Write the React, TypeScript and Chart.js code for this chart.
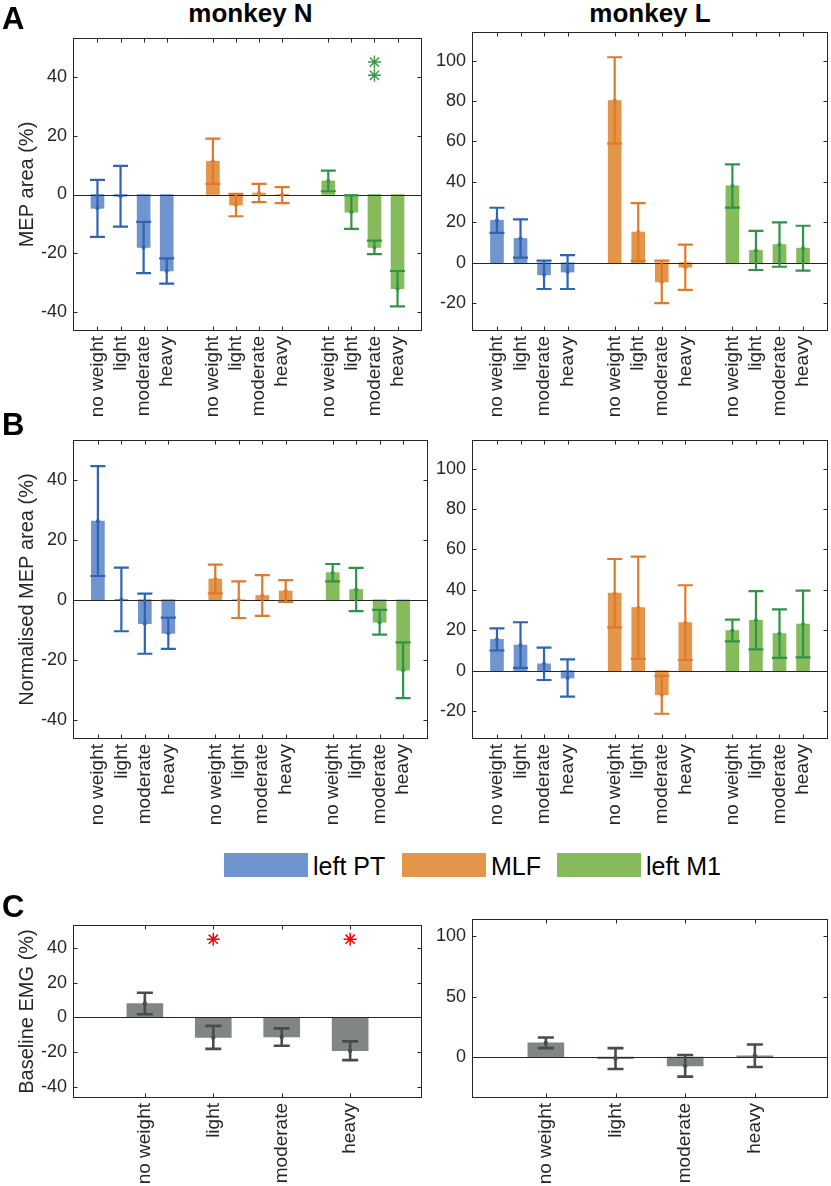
import React, { useEffect, useRef } from 'react';
import { Chart, registerables } from 'chart.js';
Chart.register(...registerables);

const FONT = "'Liberation Sans', Arial, Helvetica, sans-serif";
const AXIS_COLOR = '#262626';

// ---------- categories / positions ----------
const CONDITIONS = ['no weight', 'light', 'moderate', 'heavy'];
const SITES = ['left PT', 'MLF', 'left M1'];
const PT_POS = [1, 2, 3, 4];
const MLF_POS = [6, 7, 8, 9];
const M1_POS = [11, 12, 13, 14];
const EMG_POS = [1, 2, 3, 4];

// ---------- tick labels ----------
const Y_TICKS_N = [-40, -20, 0, 20, 40];
const Y_TICKS_L = [-20, 0, 20, 40, 60, 80, 100];
const Y_TICKS_EMG_L = [0, 50, 100];

// ---------- A: MEP area (%) ----------
const A_N_PT_MEAN = [-4.7, -0.6, -18, -26];
const A_N_PT_SE = [9.7, 10.3, 8.7, 4.3];
const A_N_MLF_MEAN = [11.3, -3.6, 0.5, -0.2];
const A_N_MLF_SE = [7.7, 3.8, 3.1, 2.7];
const A_N_M1_MEAN = [4.6, -6, -18, -32];
const A_N_M1_SE = [3.5, 5.7, 2.3, 6.0];

const A_L_PT_MEAN = [21, 12, -6, -4.6];
const A_L_PT_SE = [6.2, 9.5, 7, 8.4];
const A_L_MLF_MEAN = [80.3, 15.2, -9.5, -2.2];
const A_L_MLF_SE = [21.4, 14.3, 10.5, 11.2];
const A_L_M1_MEAN = [38, 6.1, 9, 7.2];
const A_L_M1_SE = [10.7, 9.7, 11, 11.1];

// significance markers (monkey N, panel A)
const A_STAR_X = [13, 13];
const A_STAR_Y = [45, 40.5];

// ---------- B: Normalised MEP area (%) ----------
const B_N_PT_MEAN = [26.2, 0.1, -8, -11.2];
const B_N_PT_SE = [18.3, 10.6, 10, 5.2];
const B_N_MLF_MEAN = [6.9, 0, 1.4, 2.9];
const B_N_MLF_SE = [4.8, 6.1, 6.8, 3.6];
const B_N_M1_MEAN = [9, 3.4, -7.5, -23.5];
const B_N_M1_SE = [2.9, 7.2, 4.1, 9.3];

const B_L_PT_MEAN = [15.5, 12.7, 3.4, -3.6];
const B_L_PT_SE = [5.5, 11.3, 8, 9.2];
const B_L_MLF_MEAN = [38.4, 31.2, -11.9, 23.8];
const B_L_MLF_SE = [16.9, 25.3, 9.4, 18.5];
const B_L_M1_MEAN = [19.9, 25, 18.4, 23.1];
const B_L_M1_SE = [5.4, 14.4, 12, 16.5];

// ---------- C: Baseline EMG (%) ----------
const C_N_MEAN = [8, -11.5, -11.3, -19.2];
const C_N_SE = [6.2, 6.6, 5, 5.4];
const C_L_MEAN = [11.8, -1.2, -7.2, 1.1];
const C_L_SE = [4.4, 8.6, 8.9, 9.3];
const C_STAR_X = [2, 4];
const C_STAR_Y = [45, 45];

// ---------- styles ----------
const FILL = { PT: '#7094CD', MLF: '#E39549', M1: '#85BB5A', EMG: '#7F8685' };
const ERR = { PT: '#2F63B3', MLF: '#DF7A2C', M1: '#2F9449', EMG: '#4B4B4F' };

const framePlugin = {
  id: 'frame',
  afterDatasetsDraw(chart: any, _args: any, opts: any) {
    const { ctx, chartArea: a, scales } = chart;
    const xs = scales.x;
    const ys = scales.y;
    ctx.save();
    // zero line
    const z = Math.round(ys.getPixelForValue(0)) + 0.5;
    ctx.strokeStyle = AXIS_COLOR;
    ctx.lineWidth = 1;
    ctx.beginPath();
    ctx.moveTo(a.left, z);
    ctx.lineTo(a.right, z);
    ctx.stroke();
    // error bars
    chart.data.datasets.forEach((ds: any) => {
      if (!ds.se) return;
      ctx.strokeStyle = ds.errColor;
      ctx.fillStyle = ds.errColor;
      ctx.lineWidth = opts.errWidth;
      const h = opts.capWidth / 2;
      ds.data.forEach((p: any, i: number) => {
        const px = xs.getPixelForValue(p.x);
        const top = ys.getPixelForValue(p.y + ds.se[i]);
        const bot = ys.getPixelForValue(p.y - ds.se[i]);
        const mid = ys.getPixelForValue(p.y);
        ctx.beginPath();
        ctx.moveTo(px, top);
        ctx.lineTo(px, bot);
        ctx.moveTo(px - h, top);
        ctx.lineTo(px + h, top);
        ctx.moveTo(px - h, bot);
        ctx.lineTo(px + h, bot);
        ctx.stroke();
        ctx.beginPath();
        ctx.arc(px, mid, opts.dot, 0, Math.PI * 2);
        ctx.fill();
      });
    });
    // box
    ctx.strokeStyle = AXIS_COLOR;
    ctx.lineWidth = 1;
    const L = Math.round(a.left) + 0.5;
    const R = Math.round(a.right) - 0.5;
    const T = Math.round(a.top) + 0.5;
    const B = Math.round(a.bottom) - 0.5;
    ctx.strokeRect(L, T, R - L, B - T);
    const tl = 4;
    ctx.beginPath();
    xs.ticks.forEach((t: any) => {
      const px = Math.round(xs.getPixelForValue(t.value)) + 0.5;
      ctx.moveTo(px, T);
      ctx.lineTo(px, T + tl);
      ctx.moveTo(px, B);
      ctx.lineTo(px, B - tl);
    });
    ys.ticks.forEach((t: any) => {
      const py = Math.round(ys.getPixelForValue(t.value)) + 0.5;
      ctx.moveTo(L, py);
      ctx.lineTo(L + tl, py);
      ctx.moveTo(R, py);
      ctx.lineTo(R - tl, py);
    });
    ctx.stroke();
    ctx.restore();
  },
};

type Series = { label: string; pos: number[]; mean: number[]; se: number[]; fill: string; err: string };
type Spec = {
  left: number; top: number; w: number; h: number;
  yAxisW: number; xAxisH: number; padTop: number; padRight: number;
  xMin: number; xMax: number; xTicks: number[]; xLabels: string[];
  yMin: number; yMax: number; yTicks: number[]; yTitle?: string;
  barPx: number; capPx: number; errWidth: number; dot: number;
  series: Series[];
  starX?: number[]; starY?: number[]; starColor?: string;
};

function buildConfig(s: Spec): any {
  const datasets: any[] = s.series.map((sr) => ({
    type: 'bar',
    label: sr.label,
    data: sr.pos.map((x, i) => ({ x, y: sr.mean[i] })),
    backgroundColor: sr.fill,
    borderWidth: 0,
    barThickness: s.barPx,
    grouped: false,
    se: sr.se,
    errColor: sr.err,
    order: 2,
  }));
  if (s.starX && s.starY) {
    datasets.push({
      type: 'scatter',
      label: 'significance',
      data: s.starX.map((x, i) => ({ x, y: s.starY![i] })),
      pointStyle: 'star',
      pointRadius: 6.5,
      borderColor: s.starColor,
      backgroundColor: s.starColor,
      borderWidth: 1.5,
      order: 1,
    });
  }
  return {
    type: 'bar',
    data: { datasets },
    options: {
      animation: false,
      responsive: false,
      maintainAspectRatio: false,
      devicePixelRatio: 1,
      layout: { padding: { top: s.padTop, right: s.padRight, left: 0, bottom: 0 } },
      plugins: {
        legend: { display: false },
        tooltip: { enabled: false },
        frame: { errWidth: s.errWidth, capWidth: s.capPx, dot: s.dot },
      },
      scales: {
        x: {
          type: 'linear',
          min: s.xMin,
          max: s.xMax,
          offset: false,
          grid: { display: false, drawTicks: false },
          border: { display: false },
          afterBuildTicks: (sc: any) => {
            sc.ticks = s.xTicks.map((v) => ({ value: v }));
          },
          afterFit: (sc: any) => {
            sc.height = s.xAxisH;
            sc.paddingLeft = 0;
            sc.paddingRight = 0;
          },
          ticks: {
            autoSkip: false,
            minRotation: 90,
            maxRotation: 90,
            padding: 5,
            color: AXIS_COLOR,
            font: { family: FONT, size: 19 },
            callback: (_v: any, i: number) => s.xLabels[i],
          },
        },
        y: {
          type: 'linear',
          min: s.yMin,
          max: s.yMax,
          grid: { display: false, drawTicks: false },
          border: { display: false },
          afterBuildTicks: (sc: any) => {
            sc.ticks = s.yTicks.map((v) => ({ value: v }));
          },
          afterFit: (sc: any) => {
            sc.width = s.yAxisW;
            sc.paddingTop = 0;
            sc.paddingBottom = 0;
          },
          ticks: {
            padding: 6,
            color: AXIS_COLOR,
            font: { family: FONT, size: 18 },
            callback: (v: any) => String(v),
          },
          title: {
            display: !!s.yTitle,
            text: s.yTitle || '',
            color: AXIS_COLOR,
            font: { family: FONT, size: 20 },
            padding: { top: 15, bottom: 0 },
          },
        },
      },
    },
    plugins: [framePlugin],
  };
}

function Panel({ spec }: { spec: Spec }) {
  const ref = useRef<HTMLCanvasElement>(null);
  useEffect(() => {
    const chart = new Chart(ref.current as HTMLCanvasElement, buildConfig(spec));
    return () => chart.destroy();
  }, []);
  return (
    <canvas
      ref={ref}
      width={spec.w}
      height={spec.h}
      style={{ position: 'absolute', left: spec.left, top: spec.top, width: spec.w, height: spec.h }}
    />
  );
}

const GROUP_LABELS = [...CONDITIONS, ...CONDITIONS, ...CONDITIONS];
const GROUP_TICKS = [...PT_POS, ...MLF_POS, ...M1_POS];

function mepSeries(ptM: number[], ptS: number[], mlfM: number[], mlfS: number[], m1M: number[], m1S: number[]): Series[] {
  return [
    { label: SITES[0], pos: PT_POS, mean: ptM, se: ptS, fill: FILL.PT, err: ERR.PT },
    { label: SITES[1], pos: MLF_POS, mean: mlfM, se: mlfS, fill: FILL.MLF, err: ERR.MLF },
    { label: SITES[2], pos: M1_POS, mean: m1M, se: m1S, fill: FILL.M1, err: ERR.M1 },
  ];
}

const LEFT_RANGE = { yMin: -46.4, yMax: 53.2 };
const RIGHT_RANGE = { yMin: -33.8, yMax: 114.2 };

const mepCommon = {
  w: 0, h: 401, xAxisH: 100, padTop: 2,
  xMin: -0.06, xMax: 15.06, xTicks: GROUP_TICKS, xLabels: GROUP_LABELS,
  barPx: 13, capPx: 15, errWidth: 2.2, dot: 2,
};

const SPECS: Spec[] = [
  {
    ...mepCommon, left: 0, top: 30, w: 430, yAxisW: 73, padRight: 2,
    ...LEFT_RANGE, yTicks: Y_TICKS_N, yTitle: 'MEP area (%)',
    series: mepSeries(A_N_PT_MEAN, A_N_PT_SE, A_N_MLF_MEAN, A_N_MLF_SE, A_N_M1_MEAN, A_N_M1_SE),
    starX: A_STAR_X, starY: A_STAR_Y, starColor: '#3A9A4E',
  },
  {
    ...mepCommon, left: 430, top: 30, w: 401, yAxisW: 42, padRight: 3,
    ...RIGHT_RANGE, yTicks: Y_TICKS_L,
    series: mepSeries(A_L_PT_MEAN, A_L_PT_SE, A_L_MLF_MEAN, A_L_MLF_SE, A_L_M1_MEAN, A_L_M1_SE),
  },
  {
    ...mepCommon, left: 0, top: 438, w: 430, yAxisW: 73, padRight: 2,
    ...LEFT_RANGE, yTicks: Y_TICKS_N, yTitle: 'Normalised MEP area (%)',
    series: mepSeries(B_N_PT_MEAN, B_N_PT_SE, B_N_MLF_MEAN, B_N_MLF_SE, B_N_M1_MEAN, B_N_M1_SE),
  },
  {
    ...mepCommon, left: 430, top: 438, w: 401, yAxisW: 42, padRight: 3,
    ...RIGHT_RANGE, yTicks: Y_TICKS_L,
    series: mepSeries(B_L_PT_MEAN, B_L_PT_SE, B_L_MLF_MEAN, B_L_MLF_SE, B_L_M1_MEAN, B_L_M1_SE),
  },
  {
    left: 0, top: 917, w: 430, h: 269, yAxisW: 73, xAxisH: 88, padTop: 2, padRight: 2,
    xMin: -0.05, xMax: 5.05, xTicks: EMG_POS, xLabels: CONDITIONS,
    ...LEFT_RANGE, yTicks: Y_TICKS_N, yTitle: 'Baseline EMG (%)',
    barPx: 36, capPx: 16, errWidth: 2.6, dot: 2.2,
    series: [{ label: 'baseline EMG', pos: EMG_POS, mean: C_N_MEAN, se: C_N_SE, fill: FILL.EMG, err: ERR.EMG }],
    starX: C_STAR_X, starY: C_STAR_Y, starColor: '#FF0000',
  },
  {
    left: 430, top: 917, w: 401, h: 269, yAxisW: 42, xAxisH: 88, padTop: 2, padRight: 3,
    xMin: -0.06, xMax: 5.05, xTicks: EMG_POS, xLabels: CONDITIONS,
    ...RIGHT_RANGE, yTicks: Y_TICKS_EMG_L,
    barPx: 36, capPx: 16, errWidth: 2.6, dot: 2.2,
    series: [{ label: 'baseline EMG', pos: EMG_POS, mean: C_L_MEAN, se: C_L_SE, fill: FILL.EMG, err: ERR.EMG }],
  },
];

const letterStyle: React.CSSProperties = {
  position: 'absolute', left: 2, fontFamily: FONT, fontWeight: 'bold', fontSize: 31, lineHeight: '31px', color: '#000',
};
const titleStyle: React.CSSProperties = {
  position: 'absolute', top: 0, fontFamily: FONT, fontWeight: 'bold', fontSize: 26, lineHeight: '26px', color: '#000', textAlign: 'center',
};
const legendText: React.CSSProperties = {
  position: 'absolute', top: 854, fontFamily: FONT, fontSize: 25, lineHeight: '25px', color: '#000', whiteSpace: 'nowrap',
};
const patch = (left: number, color: string): React.CSSProperties => ({
  position: 'absolute', left, top: 853, width: 84, height: 24, background: color,
});

export default function App() {
  return (
    <div style={{ position: 'absolute', left: 0, top: 0, width: 831, height: 1186, background: '#fff', overflow: 'hidden' }}>
      {SPECS.map((sp, i) => (
        <Panel key={i} spec={sp} />
      ))}
      <div style={{ ...titleStyle, left: 73, width: 355 }}>monkey N</div>
      <div style={{ ...titleStyle, left: 472, width: 356 }}>monkey L</div>
      <div style={{ ...letterStyle, top: 3 }}>A</div>
      <div style={{ ...letterStyle, top: 409 }}>B</div>
      <div style={{ ...letterStyle, top: 891 }}>C</div>
      <div style={patch(224, FILL.PT)} />
      <div style={{ ...legendText, left: 313 }}>{SITES[0]}</div>
      <div style={patch(402, FILL.MLF)} />
      <div style={{ ...legendText, left: 491 }}>{SITES[1]}</div>
      <div style={patch(557, FILL.M1)} />
      <div style={{ ...legendText, left: 646 }}>{SITES[2]}</div>
    </div>
  );
}
